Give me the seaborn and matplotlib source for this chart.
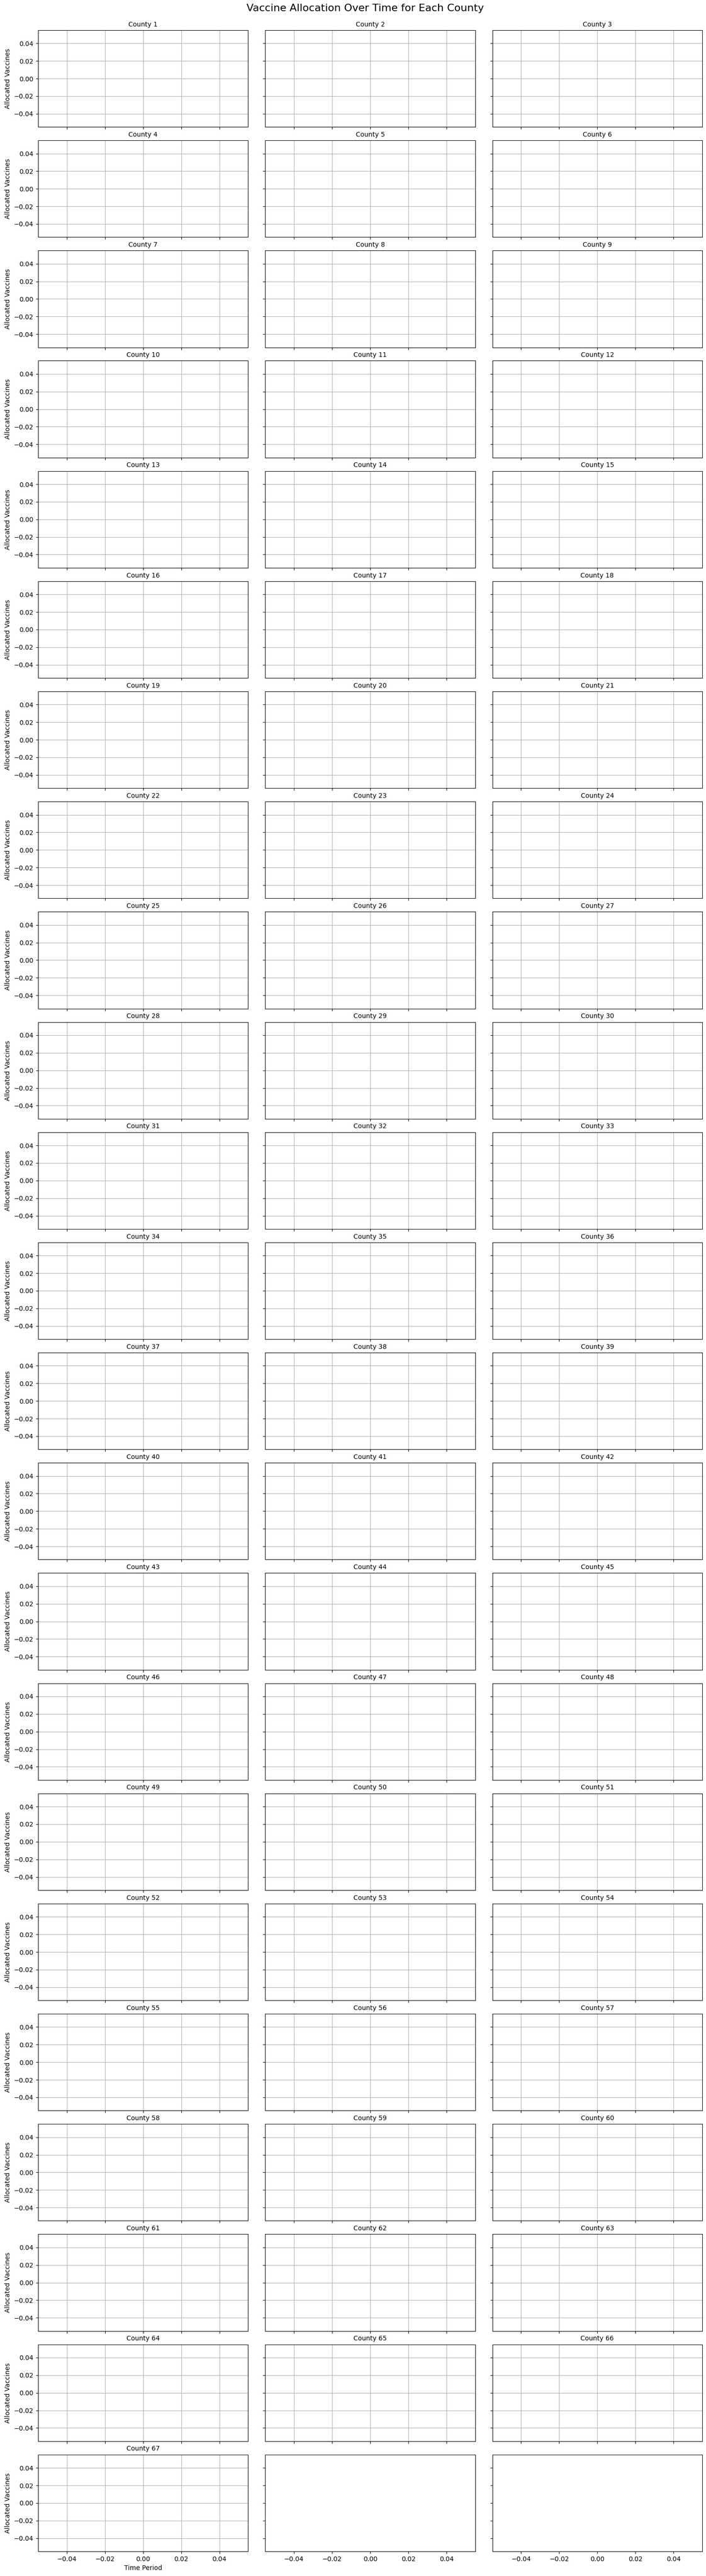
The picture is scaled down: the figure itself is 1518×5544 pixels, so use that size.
import matplotlib
matplotlib.use("Agg")
import matplotlib.pyplot as plt
import seaborn as sns
import pandas as pd

# Data: 67 counties, each with an (empty) allocation series over time
counties = [f"County {i}" for i in range(1, 68)]
time_periods = []          # no time periods recorded
allocated_vaccines = []    # no allocations recorded
y_ticks = [-0.04, -0.02, 0.00, 0.02, 0.04]
x_ticks = [-0.04, -0.02, 0.00, 0.02, 0.04]

plt.rcParams.update(plt.rcParamsDefault)
plt.rcParams['font.family'] = ['DejaVu Sans']

n_rows, n_cols = 23, 3
fig, axes = plt.subplots(n_rows, n_cols, figsize=(15.18, 55.44), dpi=100,
                         sharex=True, sharey=True)
fig.subplots_adjust(left=0.054, right=0.9947, top=0.98828, bottom=0.00956,
                    wspace=0.082, hspace=0.139)

flat = axes.flatten()
for i, county in enumerate(counties):
    ax = flat[i]
    df = pd.DataFrame({"Time Period": pd.Series(time_periods, dtype=float),
                       "Allocated Vaccines": pd.Series(allocated_vaccines, dtype=float)})
    try:
        sns.lineplot(data=df, x="Time Period", y="Allocated Vaccines", ax=ax)
    except Exception:
        ax.plot(df["Time Period"], df["Allocated Vaccines"])
    ax.set_title(county, fontsize=10)
    ax.grid(True)
    ax.set_xlabel("")
    ax.set_ylabel("")

for ax in flat:
    ax.set_xlim(-0.055, 0.055)
    ax.set_ylim(-0.055, 0.055)
    ax.set_xticks(x_ticks)
    ax.set_yticks(y_ticks)

for r in range(n_rows):
    axes[r, 0].set_ylabel("Allocated Vaccines")
axes[-1, 0].set_xlabel("Time Period")
for ax in axes[-1, :]:
    ax.tick_params(labelbottom=True)

fig.suptitle("Vaccine Allocation Over Time for Each County", fontsize=16,
             x=0.517, y=0.99675, va="center")

fig.savefig("out.png", dpi=100)
